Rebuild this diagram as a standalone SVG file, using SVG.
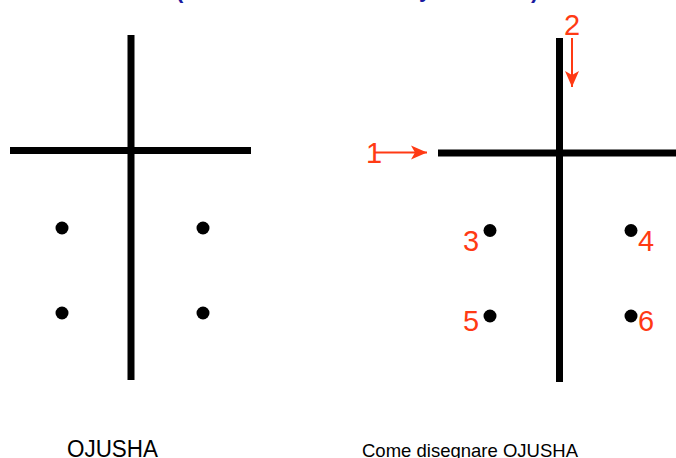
<svg xmlns="http://www.w3.org/2000/svg" width="676" height="458" viewBox="0 0 676 458">
  <defs>
    <style>
      .bar { stroke: #000; stroke-width: 7; fill: none; }
      .dot { fill: #000; }
      .red { stroke: #ff3a14; stroke-width: 2; fill: none; }
      .num { font-family: "Liberation Sans", Arial, sans-serif; font-size: 29px; fill: #ff3a14; }
      .cap { font-family: "Liberation Sans", Arial, sans-serif; fill: #000; }
      .title { font-family: "Liberation Sans", Arial, sans-serif; font-weight: bold; font-size: 22px; fill: #1a1aa0; }
    </style>
    <marker id="ah" markerWidth="17" markerHeight="15" refX="16" refY="7" orient="auto" markerUnits="userSpaceOnUse" viewBox="0 0 17 14">
      <path d="M0,0 L16,7 L0,14 L4,7 Z" fill="#ff3a14"/>
    </marker>
  </defs>
  <rect width="676" height="458" fill="#fff"/>

  <g id="title-fragments">
    <text class="title" x="176" y="-2">(</text>
    <text class="title" x="419" y="-3">y</text>
    <text class="title" x="531" y="-2">)</text>
  </g>

  <g id="left-figure">
    <line class="bar" x1="131" y1="35" x2="131" y2="380"/>
    <line class="bar" x1="10" y1="150.5" x2="251" y2="150.5"/>
    <circle class="dot" cx="62" cy="228" r="6.5"/>
    <circle class="dot" cx="203" cy="228" r="6.5"/>
    <circle class="dot" cx="62" cy="313" r="6.5"/>
    <circle class="dot" cx="203" cy="313" r="6.5"/>
  </g>

  <g id="right-figure">
    <line class="bar" x1="559.5" y1="38" x2="559.5" y2="382"/>
    <line class="bar" x1="438" y1="153" x2="676" y2="153"/>
    <circle class="dot" cx="490" cy="230.5" r="6.5"/>
    <circle class="dot" cx="631" cy="230.5" r="6.5"/>
    <circle class="dot" cx="490" cy="316" r="6.5"/>
    <circle class="dot" cx="631" cy="316" r="6.5"/>
  </g>

  <g id="connectors">
    <line class="red" x1="374" y1="152.5" x2="427" y2="152.5" marker-end="url(#ah)"/>
    <line class="red" x1="572" y1="38" x2="572" y2="87" marker-end="url(#ah)"/>
  </g>

  <g id="labels">
    <text class="num" x="366" y="163">1</text>
    <text class="num" x="564" y="35">2</text>
    <text class="num" x="463" y="251">3</text>
    <text class="num" x="638" y="251">4</text>
    <text class="num" x="463" y="331">5</text>
    <text class="num" x="638" y="331">6</text>
  </g>

  <g id="captions">
    <text class="cap" x="67" y="457" font-size="23" textLength="91" lengthAdjust="spacingAndGlyphs">OJUSHA</text>
    <text class="cap" x="362" y="457" font-size="18.5" textLength="216" lengthAdjust="spacingAndGlyphs">Come disegnare OJUSHA</text>
  </g>
</svg>
